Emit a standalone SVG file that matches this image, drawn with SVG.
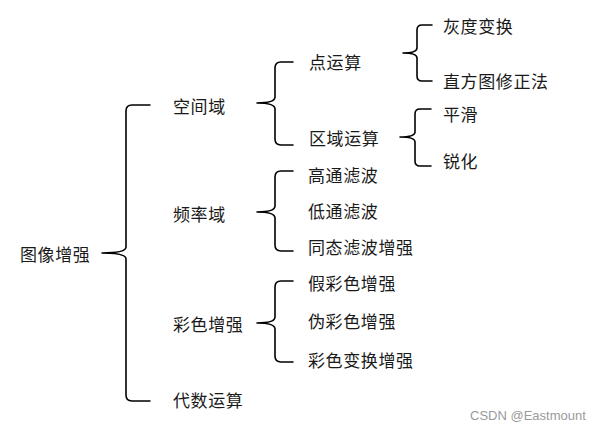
<svg xmlns="http://www.w3.org/2000/svg" width="610" height="430" viewBox="0 0 610 430">
<style>
.t{font-family:"Noto Sans CJK SC","Liberation Sans",sans-serif;font-size:17px;letter-spacing:0.6px;fill:#1a1a1a;dominant-baseline:central}
.b{fill:none;stroke:#000;stroke-width:1.6;stroke-linecap:round;stroke-linejoin:round}
.w{font-family:"Liberation Sans","Noto Sans",sans-serif;font-size:13px;fill:#9a9a9a}
</style>
<rect width="610" height="430" fill="#fff"/>
<g id="connectors">
<path class="b" d="M150,105 L132,105 Q126,105 126,111 L126,247 Q126,253 102,253 Q126,253 126,259 L126,395 Q126,401 132,401 L150,401"/>
<path class="b" d="M293,62 L281,62 Q275,62 275,68 L275,97 Q275,103 257,103 Q275,103 275,109 L275,139 Q275,145 281,145 L293,145"/>
<path class="b" d="M432,25 L422,25 Q417,25 417,30 L417,48 Q417,53 403,53 Q417,53 417,58 L417,76 Q417,81 422,81 L432,81"/>
<path class="b" d="M431,109 L420,109 Q415,109 415,114 L415,132 Q415,137 400,137 Q415,137 415,142 L415,161 Q415,166 420,166 L431,166"/>
<path class="b" d="M293,171 L281,171 Q275,171 275,177 L275,206 Q275,212 257,212 Q275,212 275,218 L275,245 Q275,251 281,251 L293,251"/>
<path class="b" d="M293,281 L281,281 Q275,281 275,287 L275,317 Q275,323 257,323 Q275,323 275,329 L275,356 Q275,362 281,362 L293,362"/>
</g>
<g id="root"><text class="t" x="20" y="253">图像增强</text></g>
<g id="spatial"><text class="t" x="173" y="105">空间域</text></g>
<g id="frequency"><text class="t" x="173" y="213">频率域</text></g>
<g id="color"><text class="t" x="173" y="323">彩色增强</text></g>
<g id="algebra"><text class="t" x="173" y="399">代数运算</text></g>
<g id="point"><text class="t" x="309" y="61">点运算</text></g>
<g id="region"><text class="t" x="309" y="137">区域运算</text></g>
<g id="gray"><text class="t" x="443" y="25">灰度变换</text></g>
<g id="hist"><text class="t" x="443" y="80">直方图修正法</text></g>
<g id="smooth"><text class="t" x="443" y="113">平滑</text></g>
<g id="sharpen"><text class="t" x="443" y="160">锐化</text></g>
<g id="highpass"><text class="t" x="308" y="174">高通滤波</text></g>
<g id="lowpass"><text class="t" x="308" y="210">低通滤波</text></g>
<g id="homo"><text class="t" x="308" y="246">同态滤波增强</text></g>
<g id="pseudo1"><text class="t" x="308" y="282">假彩色增强</text></g>
<g id="pseudo2"><text class="t" x="308" y="320">伪彩色增强</text></g>
<g id="colortrans"><text class="t" x="308" y="359">彩色变换增强</text></g>
<text class="w" x="470" y="420">CSDN @Eastmount</text>
</svg>
